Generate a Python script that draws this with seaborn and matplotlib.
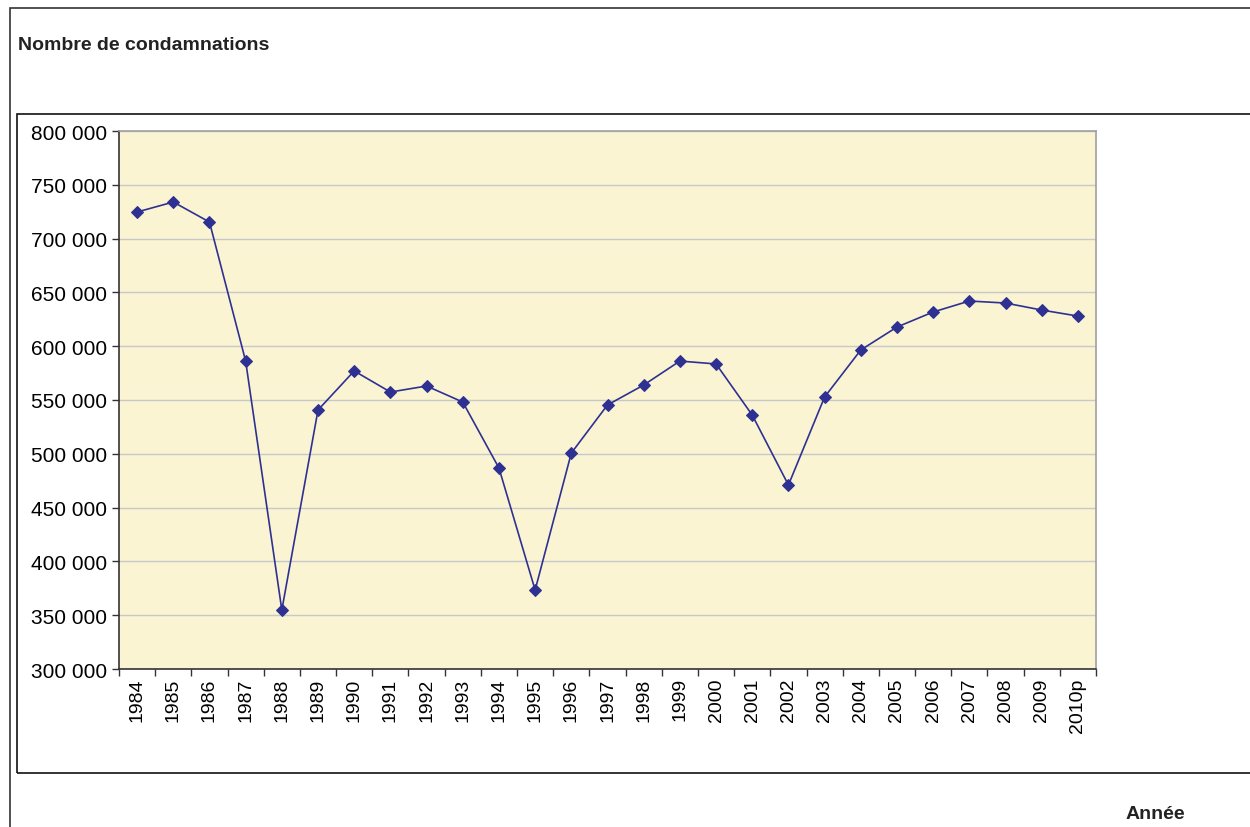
import matplotlib
matplotlib.use("Agg")
import matplotlib.pyplot as plt
import seaborn as sns
import pandas as pd
from matplotlib.patches import Rectangle
from matplotlib.ticker import FuncFormatter, FixedLocator

# data
annees = ['1984', '1985', '1986', '1987', '1988', '1989', '1990', '1991', '1992',
          '1993', '1994', '1995', '1996', '1997', '1998', '1999', '2000', '2001',
          '2002', '2003', '2004', '2005', '2006', '2007', '2008', '2009', '2010p']
condamnations = [724700, 734000, 715400, 586200, 354800, 540700, 577000, 557400, 563000,
                 548100, 486800, 373400, 500700, 545400, 563900, 586200, 583500, 536000,
                 471000, 552800, 596500, 617800, 631800, 642000, 640100, 633600, 628000]
y_ticks = [300000, 350000, 400000, 450000, 500000, 550000, 600000, 650000, 700000, 750000, 800000]

df = pd.DataFrame({'pos': range(len(annees)), 'annee': annees, 'total': condamnations})

sns.set_theme(style="white")
plt.rcParams['font.family'] = ['Liberation Sans', 'DejaVu Sans']

fig = plt.figure(figsize=(12.5, 8.28), dpi=100)
W, H = 1250, 828

# frames around the chart, like the spreadsheet export
fig.patches.append(Rectangle((10 / W, -0.01), 1.1, 1 - 9 / H + 0.01, transform=fig.transFigure,
                             fill=False, edgecolor='#333333', linewidth=1.2))
fig.patches.append(Rectangle((17 / W, 1 - 774 / H), 1.1, (774 - 115) / H, transform=fig.transFigure,
                             fill=False, edgecolor='#111111', linewidth=1.2))

ax = fig.add_axes([119 / W, 1 - 670 / H, (1096 - 119) / W, (670 - 132) / H])
ax.set_facecolor('#FAF4D2')

sns.lineplot(data=df, x='pos', y='total', ax=ax, color='#2E3192', linewidth=1.2,
             marker='D', markersize=6.5, markeredgecolor='#2E3192')

ax.set_xlim(-0.5, len(annees) - 0.5)
ax.set_ylim(300000, 800000)
ax.set_yticks(y_ticks)
ax.yaxis.set_major_formatter(FuncFormatter(lambda v, p: f"{int(v):,}".replace(',', ' ')))
ax.grid(axis='y', color='#C8C8C8', linewidth=1)
ax.set_axisbelow(True)

# ticks on category boundaries, labels centred on categories
ax.xaxis.set_major_locator(FixedLocator([i - 0.5 for i in range(len(annees) + 1)]))
ax.xaxis.set_major_formatter(FuncFormatter(lambda v, p: ''))
ax.xaxis.set_minor_locator(FixedLocator(list(range(len(annees)))))
ax.set_xticklabels(annees, minor=True, rotation=90, fontsize=14, color='black')
ax.tick_params(axis='x', which='minor', length=0, pad=6)
ax.tick_params(axis='x', which='major', length=5, width=1, color='#333333', direction='out', bottom=True)
ax.tick_params(axis='y', length=5, width=1, color='#333333', direction='out', left=True,
               labelsize=15, labelcolor='black')

for s in ['left', 'bottom']:
    ax.spines[s].set_color('#333333')
    ax.spines[s].set_linewidth(1.2)
for s in ['top', 'right']:
    ax.spines[s].set_color('#A0A0A0')
    ax.spines[s].set_linewidth(1.2)

ax.set_xlabel('')
ax.set_ylabel('')

fig.text(18 / W, 1 - 45 / H, 'Nombre de condamnations', fontsize=14, fontweight='bold',
         family=['Liberation Sans Narrow', 'Liberation Sans'], va='center', ha='left', color='#222222')
fig.text(1155 / W, 1 - 815 / H, 'Année', fontsize=14, fontweight='bold',
         family=['Liberation Sans Narrow', 'Liberation Sans'], va='center', ha='center', color='#222222')

fig.savefig('out.png', dpi=100)
